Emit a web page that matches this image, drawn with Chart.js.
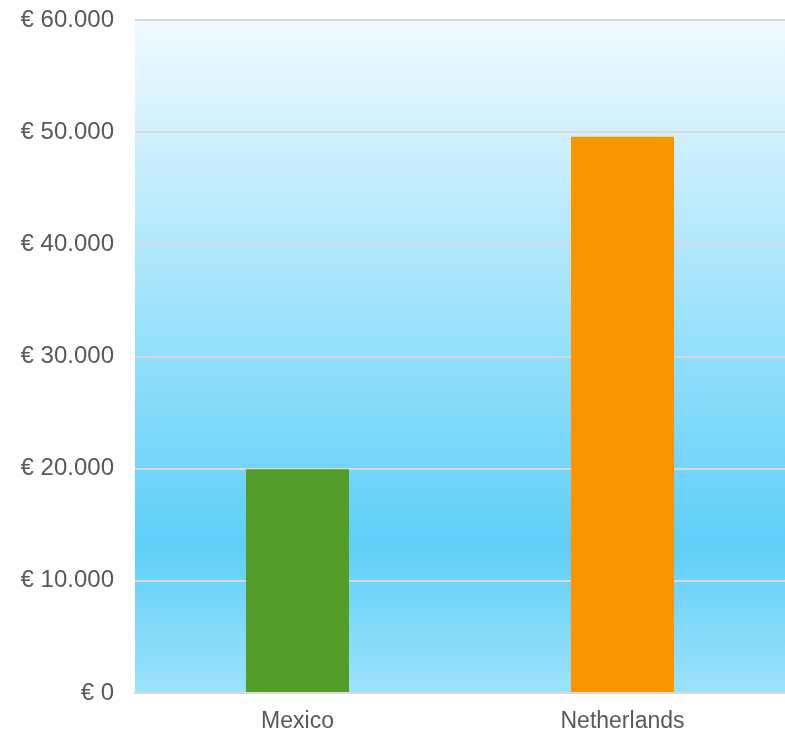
<!DOCTYPE html>
<html>
<head>
<meta charset="utf-8">
<script src="https://cdn.jsdelivr.net/npm/chart.js@4/dist/chart.umd.min.js"></script>
<style>
    html, body { margin: 0; padding: 0; background: #fff; }
    #wrap { width: 785px; height: 734px; }
</style>
</head>
<body>
<div id="wrap"><canvas id="incomeChart"></canvas></div>
<script>
const countries = ['Mexico', 'Netherlands'];
const incomeValues = [19950, 49600];
const barColors = ['#539d28', '#f99500'];
const yTicks = [0, 10000, 20000, 30000, 40000, 50000, 60000];

// sky-blue gradient behind the plot area
const areaBackground = {
    id: 'areaBackground',
    beforeDraw(chart) {
        const { ctx, chartArea: a } = chart;
        const g = ctx.createLinearGradient(0, a.top, 0, a.bottom);
        g.addColorStop(0, '#f0faff');
        g.addColorStop(0.78, '#5ecff8');
        g.addColorStop(1, '#9de2fb');
        ctx.save();
        ctx.fillStyle = g;
        ctx.fillRect(a.left, a.top, a.right - a.left, a.bottom - a.top);
        ctx.restore();
    }
};

const euro = v => '€ ' + String(v).replace(/\B(?=(\d{3})+(?!\d))/g, '.');

new Chart(document.getElementById('incomeChart'), {
    type: 'bar',
    data: {
        labels: countries,
        datasets: [{
            data: incomeValues,
            backgroundColor: barColors,
            borderWidth: 0,
            categoryPercentage: 1,
            barPercentage: 0.317
        }]
    },
    options: {
        responsive: true,
        maintainAspectRatio: false,
        animation: false,
        layout: { padding: { top: 20, right: 0, left: 0, bottom: 0 } },
        plugins: {
            legend: { display: false },
            tooltip: { enabled: false }
        },
        scales: {
            x: {
                grid: { display: false, drawTicks: false },
                border: { color: '#d9d9d9', width: 2 },
                ticks: {
                    color: '#595959',
                    font: { family: 'Liberation Sans, Arial', size: 23 },
                    padding: 15
                },
                afterFit: s => { s.height = 41; }
            },
            y: {
                min: 0,
                max: 60000,
                afterBuildTicks: s => { s.ticks = yTicks.map(v => ({ value: v })); },
                grid: { color: '#d9d9d9', lineWidth: 2, drawTicks: false },
                border: { display: false },
                ticks: {
                    color: '#595959',
                    font: { family: 'Liberation Sans, Arial', size: 24 },
                    padding: 21,
                    callback: v => euro(v)
                },
                afterFit: s => {
                    s.width = 135;
                    s.paddingTop = 0;
                    s.paddingBottom = 0;
                }
            }
        }
    },
    plugins: [areaBackground]
});
</script>
</body>
</html>
